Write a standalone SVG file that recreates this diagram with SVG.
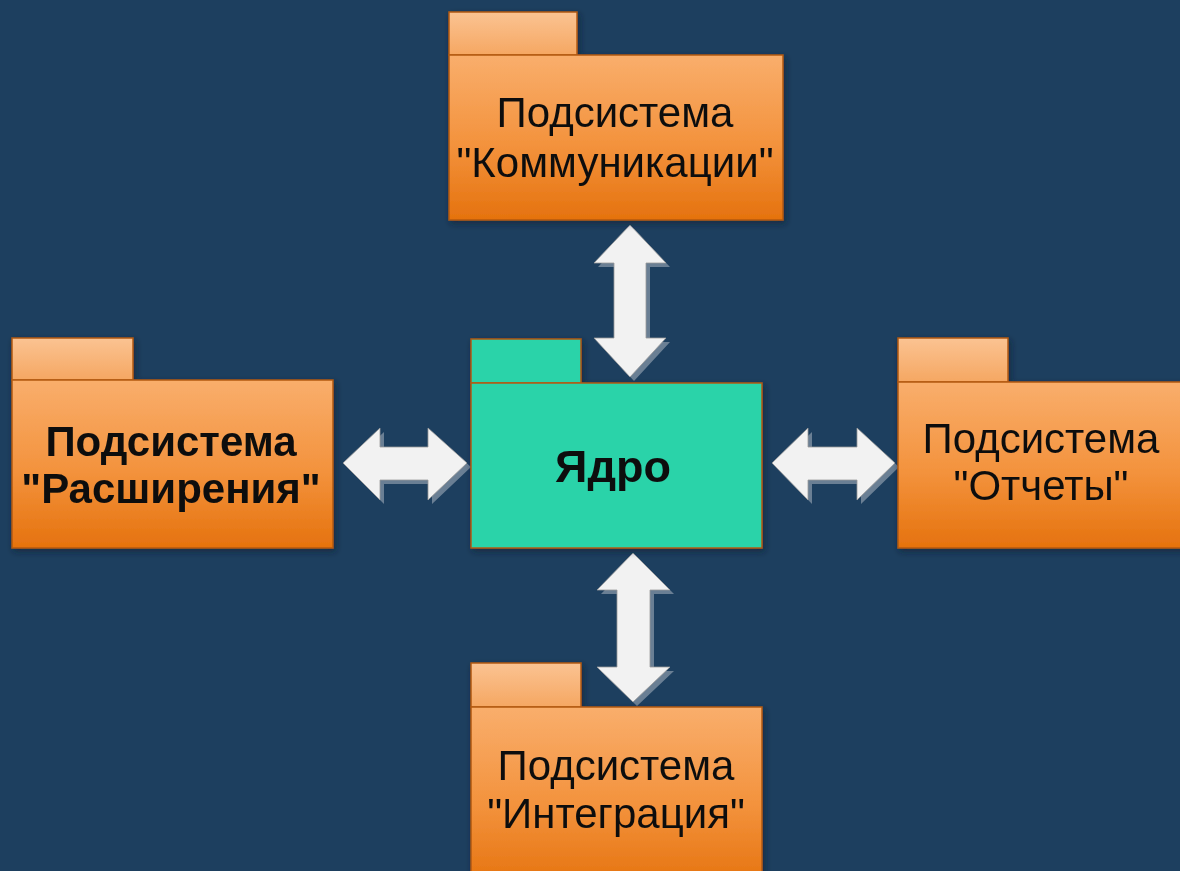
<svg xmlns="http://www.w3.org/2000/svg" width="1180" height="871" viewBox="0 0 1180 871">
<defs>
<linearGradient id="gBody" x1="0" y1="0" x2="0" y2="1">
<stop offset="0" stop-color="#f9ae6c"/>
<stop offset="0.55" stop-color="#f3923c"/>
<stop offset="1" stop-color="#e5720e"/>
</linearGradient>
<linearGradient id="gTab" x1="0" y1="0" x2="0" y2="1">
<stop offset="0" stop-color="#fbc392"/>
<stop offset="1" stop-color="#f5a762"/>
</linearGradient>
<filter id="sh" x="-10%" y="-10%" width="130%" height="130%">
<feDropShadow dx="2" dy="3" stdDeviation="3" flood-color="#0a1a2a" flood-opacity="0.6"/>
</filter>
</defs>
<style>
.body{fill:url(#gBody);stroke:#b35a12;stroke-width:1.5}
.tab{fill:url(#gTab);stroke:#b35a12;stroke-width:1.5}
.core{fill:#2ad3a9;stroke:#b35a12;stroke-width:1.5}
.t{font-family:"Liberation Sans",Arial,sans-serif;font-size:42px;fill:#111;text-anchor:middle}
.b{font-weight:bold}
.big{font-size:45px}
.ar{fill:#f2f2f2;stroke:#9a9a9a;stroke-width:0.8}
.as{fill:#6a7f94}
</style>
<rect width="1180" height="871" fill="#1d3f5f"/>

<g id="connectors">
<g transform="translate(4,4)" class="as">
<polygon points="630,225 666,263 646,263 646,338 666,338 630,377 594,338 614,338 614,263 594,263"/>
<polygon points="633,553 670,590 650,590 650,667 670,667 633,702 597,667 617,667 617,590 597,590"/>
<polygon points="343,463 380,428 380,447 428,447 428,428 467,463 428,500 428,480 380,480 380,500"/>
<polygon points="772,463 808,428 808,447 857,447 857,428 895,463 857,500 857,480 808,480 808,500"/>
</g>
<polygon class="ar" points="630,225 666,263 646,263 646,338 666,338 630,377 594,338 614,338 614,263 594,263"/>
<polygon class="ar" points="633,553 670,590 650,590 650,667 670,667 633,702 597,667 617,667 617,590 597,590"/>
<polygon class="ar" points="343,463 380,428 380,447 428,447 428,428 467,463 428,500 428,480 380,480 380,500"/>
<polygon class="ar" points="772,463 808,428 808,447 857,447 857,428 895,463 857,500 857,480 808,480 808,500"/>
</g>

<g id="comm" filter="url(#sh)">
<rect class="tab" x="449" y="12" width="128" height="43"/>
<rect class="body" x="449" y="55" width="334" height="165"/>
<text class="t" x="615" y="127">Подсистема</text>
<text class="t" x="615" y="177">"Коммуникации"</text>
</g>

<g id="core" filter="url(#sh)">
<rect class="core" x="471" y="339" width="110" height="44"/>
<rect class="core" x="471" y="383" width="291" height="165"/>
<text class="t b big" x="613" y="482">Ядро</text>
</g>

<g id="ext" filter="url(#sh)">
<rect class="tab" x="12" y="338" width="121" height="42"/>
<rect class="body" x="12" y="380" width="321" height="168"/>
<text class="t b" x="171" y="456">Подсистема</text>
<text class="t b" x="171" y="503">"Расширения"</text>
</g>

<g id="reports" filter="url(#sh)">
<rect class="tab" x="898" y="338" width="110" height="44"/>
<rect class="body" x="898" y="382" width="290" height="166"/>
<text class="t" x="1041" y="453">Подсистема</text>
<text class="t" x="1041" y="500">"Отчеты"</text>
</g>

<g id="integr" filter="url(#sh)">
<rect class="tab" x="471" y="663" width="110" height="44"/>
<rect class="body" x="471" y="707" width="291" height="180"/>
<text class="t" x="616" y="780">Подсистема</text>
<text class="t" x="616" y="828">"Интеграция"</text>
</g>
</svg>
